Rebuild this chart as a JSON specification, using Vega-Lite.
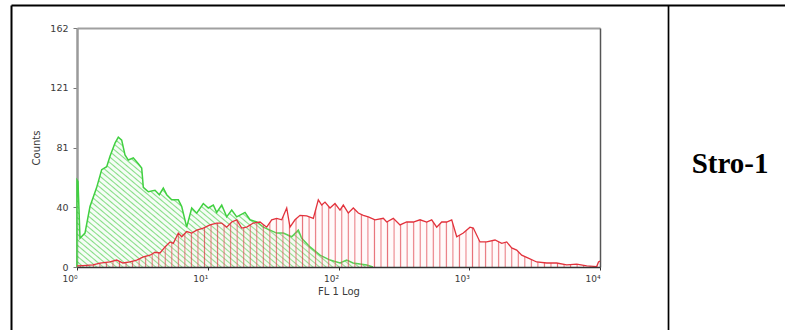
{
  "$schema": "https://vega.github.io/schema/vega-lite/v6.json",
  "width": 774,
  "height": 325,
  "autosize": {"type": "none"},
  "padding": {"left": 11, "top": 5, "right": 0, "bottom": 0},
  "background": "white",
  "config": {
    "view": {"stroke": null},
    "axis": {"grid": false, "labelFont": "DejaVu Sans", "titleFont": "DejaVu Sans", "labelColor": "#3a3a3a", "titleColor": "#3a3a3a", "titleFontWeight": "normal"}
  },
  "resolve": {"scale": {"x": "independent", "y": "independent"}},
  "layer": [
    {
      "data": {"values": [
        {"fl1": 1, "count": 0}, {"fl1": 1, "count": 59}, {"fl1": 1.0178, "count": 58}, {"fl1": 1.0543, "count": 19.5},
        {"fl1": 1.1512, "count": 23}, {"fl1": 1.2571, "count": 41}, {"fl1": 1.4151, "count": 54}, {"fl1": 1.5447, "count": 66},
        {"fl1": 1.687, "count": 68}, {"fl1": 1.788, "count": 75}, {"fl1": 1.9532, "count": 84}, {"fl1": 2.0699, "count": 88},
        {"fl1": 2.1968, "count": 86}, {"fl1": 2.3284, "count": 76}, {"fl1": 2.4678, "count": 72.5}, {"fl1": 2.6956, "count": 74},
        {"fl1": 2.9437, "count": 70}, {"fl1": 3.1248, "count": 67}, {"fl1": 3.2152, "count": 54}, {"fl1": 3.5107, "count": 51},
        {"fl1": 3.9505, "count": 52}, {"fl1": 4.2619, "count": 49}, {"fl1": 4.5714, "count": 53.5}, {"fl1": 4.8532, "count": 49},
        {"fl1": 5.2999, "count": 45.5}, {"fl1": 5.9553, "count": 45.5}, {"fl1": 6.3218, "count": 41}, {"fl1": 6.9024, "count": 27},
        {"fl1": 7.5411, "count": 40}, {"fl1": 8.2334, "count": 36.5}, {"fl1": 9.2471, "count": 43}, {"fl1": 10.098, "count": 40},
        {"fl1": 11.026, "count": 42}, {"fl1": 11.707, "count": 37}, {"fl1": 12.788, "count": 42}, {"fl1": 13.963, "count": 34},
        {"fl1": 15.251, "count": 38.6}, {"fl1": 16.654, "count": 34}, {"fl1": 19.275, "count": 37}, {"fl1": 21.045, "count": 32},
        {"fl1": 23.681, "count": 30.5}, {"fl1": 26.603, "count": 27}, {"fl1": 29.926, "count": 25}, {"fl1": 33.679, "count": 23},
        {"fl1": 37.832, "count": 23}, {"fl1": 43.86, "count": 20.5}, {"fl1": 49.276, "count": 25}, {"fl1": 52.314, "count": 19.5},
        {"fl1": 60.533, "count": 13.6}, {"fl1": 72.2, "count": 8}, {"fl1": 86.097, "count": 4.7}, {"fl1": 102.68, "count": 2.7},
        {"fl1": 115.55, "count": 4.7}, {"fl1": 129.11, "count": 2.7}, {"fl1": 164.35, "count": 1.4}, {"fl1": 183.58, "count": 0}
      ]},
      "mark": {
        "type": "area",
        "fill": {
          "gradient": "linear", "x1": 0, "y1": 1, "x2": 1.087, "y2": 0.432,
          "stops": [
            {"offset": 0, "color": "#52cf52"}, {"offset": 0.004, "color": "#f2fcf2"}, {"offset": 0.012, "color": "#f2fcf2"},
            {"offset": 0.016, "color": "#52cf52"}, {"offset": 0.02, "color": "#f2fcf2"}, {"offset": 0.028, "color": "#f2fcf2"},
            {"offset": 0.032, "color": "#52cf52"}, {"offset": 0.036, "color": "#f2fcf2"}, {"offset": 0.044, "color": "#f2fcf2"},
            {"offset": 0.048, "color": "#52cf52"}, {"offset": 0.052, "color": "#f2fcf2"}, {"offset": 0.06, "color": "#f2fcf2"},
            {"offset": 0.064, "color": "#52cf52"}, {"offset": 0.068, "color": "#f2fcf2"}, {"offset": 0.076, "color": "#f2fcf2"},
            {"offset": 0.08, "color": "#52cf52"}, {"offset": 0.084, "color": "#f2fcf2"}, {"offset": 0.092, "color": "#f2fcf2"},
            {"offset": 0.096, "color": "#52cf52"}, {"offset": 0.1, "color": "#f2fcf2"}, {"offset": 0.108, "color": "#f2fcf2"},
            {"offset": 0.112, "color": "#52cf52"}, {"offset": 0.116, "color": "#f2fcf2"}, {"offset": 0.124, "color": "#f2fcf2"},
            {"offset": 0.128, "color": "#52cf52"}, {"offset": 0.132, "color": "#f2fcf2"}, {"offset": 0.14, "color": "#f2fcf2"},
            {"offset": 0.144, "color": "#52cf52"}, {"offset": 0.148, "color": "#f2fcf2"}, {"offset": 0.156, "color": "#f2fcf2"},
            {"offset": 0.16, "color": "#52cf52"}, {"offset": 0.164, "color": "#f2fcf2"}, {"offset": 0.172, "color": "#f2fcf2"},
            {"offset": 0.176, "color": "#52cf52"}, {"offset": 0.18, "color": "#f2fcf2"}, {"offset": 0.188, "color": "#f2fcf2"},
            {"offset": 0.192, "color": "#52cf52"}, {"offset": 0.196, "color": "#f2fcf2"}, {"offset": 0.204, "color": "#f2fcf2"},
            {"offset": 0.208, "color": "#52cf52"}, {"offset": 0.212, "color": "#f2fcf2"}, {"offset": 0.22, "color": "#f2fcf2"},
            {"offset": 0.224, "color": "#52cf52"}, {"offset": 0.228, "color": "#f2fcf2"}, {"offset": 0.236, "color": "#f2fcf2"},
            {"offset": 0.24, "color": "#52cf52"}, {"offset": 0.244, "color": "#f2fcf2"}, {"offset": 0.252, "color": "#f2fcf2"},
            {"offset": 0.256, "color": "#52cf52"}, {"offset": 0.26, "color": "#f2fcf2"}, {"offset": 0.268, "color": "#f2fcf2"},
            {"offset": 0.272, "color": "#52cf52"}, {"offset": 0.276, "color": "#f2fcf2"}, {"offset": 0.284, "color": "#f2fcf2"},
            {"offset": 0.288, "color": "#52cf52"}, {"offset": 0.292, "color": "#f2fcf2"}, {"offset": 0.3, "color": "#f2fcf2"},
            {"offset": 0.304, "color": "#52cf52"}, {"offset": 0.308, "color": "#f2fcf2"}, {"offset": 0.316, "color": "#f2fcf2"},
            {"offset": 0.32, "color": "#52cf52"}, {"offset": 0.324, "color": "#f2fcf2"}, {"offset": 0.332, "color": "#f2fcf2"},
            {"offset": 0.336, "color": "#52cf52"}, {"offset": 0.34, "color": "#f2fcf2"}, {"offset": 0.348, "color": "#f2fcf2"},
            {"offset": 0.352, "color": "#52cf52"}, {"offset": 0.356, "color": "#f2fcf2"}, {"offset": 0.364, "color": "#f2fcf2"},
            {"offset": 0.368, "color": "#52cf52"}, {"offset": 0.372, "color": "#f2fcf2"}, {"offset": 0.38, "color": "#f2fcf2"},
            {"offset": 0.384, "color": "#52cf52"}, {"offset": 0.388, "color": "#f2fcf2"}, {"offset": 0.396, "color": "#f2fcf2"},
            {"offset": 0.4, "color": "#52cf52"}, {"offset": 0.404, "color": "#f2fcf2"}, {"offset": 0.412, "color": "#f2fcf2"},
            {"offset": 0.416, "color": "#52cf52"}, {"offset": 0.42, "color": "#f2fcf2"}, {"offset": 0.428, "color": "#f2fcf2"},
            {"offset": 0.432, "color": "#52cf52"}, {"offset": 0.436, "color": "#f2fcf2"}, {"offset": 0.444, "color": "#f2fcf2"},
            {"offset": 0.448, "color": "#52cf52"}, {"offset": 0.452, "color": "#f2fcf2"}, {"offset": 0.46, "color": "#f2fcf2"},
            {"offset": 0.464, "color": "#52cf52"}, {"offset": 0.468, "color": "#f2fcf2"}, {"offset": 0.476, "color": "#f2fcf2"},
            {"offset": 0.48, "color": "#52cf52"}, {"offset": 0.484, "color": "#f2fcf2"}, {"offset": 0.492, "color": "#f2fcf2"},
            {"offset": 0.496, "color": "#52cf52"}, {"offset": 0.5, "color": "#f2fcf2"}, {"offset": 0.508, "color": "#f2fcf2"},
            {"offset": 0.512, "color": "#52cf52"}, {"offset": 0.516, "color": "#f2fcf2"}, {"offset": 0.524, "color": "#f2fcf2"},
            {"offset": 0.528, "color": "#52cf52"}, {"offset": 0.532, "color": "#f2fcf2"}, {"offset": 0.54, "color": "#f2fcf2"},
            {"offset": 0.544, "color": "#52cf52"}, {"offset": 0.548, "color": "#f2fcf2"}, {"offset": 0.556, "color": "#f2fcf2"},
            {"offset": 0.56, "color": "#52cf52"}, {"offset": 0.564, "color": "#f2fcf2"}, {"offset": 0.572, "color": "#f2fcf2"},
            {"offset": 0.576, "color": "#52cf52"}, {"offset": 0.58, "color": "#f2fcf2"}, {"offset": 0.588, "color": "#f2fcf2"},
            {"offset": 0.592, "color": "#52cf52"}, {"offset": 0.596, "color": "#f2fcf2"}, {"offset": 0.604, "color": "#f2fcf2"},
            {"offset": 0.608, "color": "#52cf52"}, {"offset": 0.612, "color": "#f2fcf2"}, {"offset": 0.62, "color": "#f2fcf2"},
            {"offset": 0.624, "color": "#52cf52"}, {"offset": 0.628, "color": "#f2fcf2"}, {"offset": 0.636, "color": "#f2fcf2"},
            {"offset": 0.64, "color": "#52cf52"}, {"offset": 0.644, "color": "#f2fcf2"}, {"offset": 0.652, "color": "#f2fcf2"},
            {"offset": 0.656, "color": "#52cf52"}, {"offset": 0.66, "color": "#f2fcf2"}, {"offset": 0.668, "color": "#f2fcf2"},
            {"offset": 0.672, "color": "#52cf52"}, {"offset": 0.676, "color": "#f2fcf2"}, {"offset": 0.684, "color": "#f2fcf2"},
            {"offset": 0.688, "color": "#52cf52"}, {"offset": 0.692, "color": "#f2fcf2"}, {"offset": 0.7, "color": "#f2fcf2"},
            {"offset": 0.704, "color": "#52cf52"}, {"offset": 0.708, "color": "#f2fcf2"}, {"offset": 0.716, "color": "#f2fcf2"},
            {"offset": 0.72, "color": "#52cf52"}, {"offset": 0.724, "color": "#f2fcf2"}, {"offset": 0.732, "color": "#f2fcf2"},
            {"offset": 0.736, "color": "#52cf52"}, {"offset": 0.74, "color": "#f2fcf2"}, {"offset": 0.748, "color": "#f2fcf2"},
            {"offset": 0.752, "color": "#52cf52"}, {"offset": 0.756, "color": "#f2fcf2"}, {"offset": 0.764, "color": "#f2fcf2"},
            {"offset": 0.768, "color": "#52cf52"}, {"offset": 0.772, "color": "#f2fcf2"}, {"offset": 0.78, "color": "#f2fcf2"},
            {"offset": 0.784, "color": "#52cf52"}, {"offset": 0.788, "color": "#f2fcf2"}, {"offset": 0.796, "color": "#f2fcf2"},
            {"offset": 0.8, "color": "#52cf52"}, {"offset": 0.804, "color": "#f2fcf2"}, {"offset": 0.812, "color": "#f2fcf2"},
            {"offset": 0.816, "color": "#52cf52"}, {"offset": 0.82, "color": "#f2fcf2"}, {"offset": 0.828, "color": "#f2fcf2"},
            {"offset": 0.832, "color": "#52cf52"}, {"offset": 0.836, "color": "#f2fcf2"}, {"offset": 0.844, "color": "#f2fcf2"},
            {"offset": 0.848, "color": "#52cf52"}, {"offset": 0.852, "color": "#f2fcf2"}, {"offset": 0.86, "color": "#f2fcf2"},
            {"offset": 0.864, "color": "#52cf52"}, {"offset": 0.868, "color": "#f2fcf2"}, {"offset": 0.876, "color": "#f2fcf2"},
            {"offset": 0.88, "color": "#52cf52"}, {"offset": 0.884, "color": "#f2fcf2"}, {"offset": 0.892, "color": "#f2fcf2"},
            {"offset": 0.896, "color": "#52cf52"}, {"offset": 0.9, "color": "#f2fcf2"}, {"offset": 0.908, "color": "#f2fcf2"},
            {"offset": 0.912, "color": "#52cf52"}, {"offset": 0.916, "color": "#f2fcf2"}, {"offset": 0.924, "color": "#f2fcf2"},
            {"offset": 0.928, "color": "#52cf52"}, {"offset": 0.932, "color": "#f2fcf2"}, {"offset": 0.94, "color": "#f2fcf2"},
            {"offset": 0.944, "color": "#52cf52"}, {"offset": 0.948, "color": "#f2fcf2"}, {"offset": 0.956, "color": "#f2fcf2"},
            {"offset": 0.96, "color": "#52cf52"}, {"offset": 0.964, "color": "#f2fcf2"}, {"offset": 0.972, "color": "#f2fcf2"},
            {"offset": 0.976, "color": "#52cf52"}, {"offset": 0.98, "color": "#f2fcf2"}, {"offset": 0.988, "color": "#f2fcf2"},
            {"offset": 0.992, "color": "#52cf52"}, {"offset": 0.996, "color": "#f2fcf2"}, {"offset": 1, "color": "#f2fcf2"}
          ]
        },
        "line": {"color": "#40d040", "strokeWidth": 1.5}
      },
      "encoding": {
        "x": {
          "field": "fl1", "type": "quantitative",
          "scale": {"type": "log", "domain": [1, 10000], "range": [66, 589]},
          "axis": {
            "orient": "bottom", "offset": -63, "zindex": 1,
            "values": [1, 10, 100, 1000, 10000],
            "labelExpr": "'10' + ['⁰','¹','²','³','⁴'][round(log(datum.value) / LN10)]",
            "labelAlign": "right", "labelFontSize": 9, "labelPadding": 4,
            "tickSize": 3, "tickColor": "#333333", "domainColor": "#333333", "domainWidth": 1.5,
            "title": "FL 1 Log", "titleFontSize": 10, "titlePadding": 3
          }
        },
        "y": {
          "field": "count", "type": "quantitative",
          "scale": {"domain": [0, 162], "range": [262, 23]},
          "axis": {
            "orient": "left", "offset": -66,
            "values": [0, 40.5, 81, 121.5, 162],
            "labelExpr": "floor(datum.value)",
            "labelFontSize": 9.5, "labelPadding": 5,
            "tickSize": 4, "tickColor": "#777777", "domainColor": "#9a9a9a", "domainWidth": 2.5,
            "title": "Counts", "titleFontSize": 10, "titlePadding": 8
          }
        }
      }
    },
    {
      "data": {"values": [
        {"fl1": 1, "count": 0.7}, {"fl1": 1.1114, "count": 1}, {"fl1": 1.3257, "count": 1.4}, {"fl1": 1.4996, "count": 2.7},
        {"fl1": 1.788, "count": 3.4}, {"fl1": 2.0118, "count": 4.7}, {"fl1": 2.2477, "count": 2.7}, {"fl1": 2.5429, "count": 3.4},
        {"fl1": 2.8617, "count": 4.7}, {"fl1": 3.2152, "count": 6.8}, {"fl1": 3.6168, "count": 8}, {"fl1": 3.9505, "count": 10},
        {"fl1": 4.3148, "count": 9.5}, {"fl1": 4.711, "count": 13.6}, {"fl1": 5.1445, "count": 17}, {"fl1": 5.4528, "count": 16},
        {"fl1": 5.9553, "count": 23}, {"fl1": 6.3218, "count": 20.5}, {"fl1": 6.9024, "count": 24}, {"fl1": 7.5411, "count": 23},
        {"fl1": 8.2334, "count": 25}, {"fl1": 9.2471, "count": 26.4}, {"fl1": 10.404, "count": 28.5}, {"fl1": 11.707, "count": 29.8},
        {"fl1": 12.788, "count": 29.8}, {"fl1": 13.963, "count": 27}, {"fl1": 15.251, "count": 30.5}, {"fl1": 16.654, "count": 32},
        {"fl1": 18.183, "count": 26.4}, {"fl1": 19.861, "count": 27}, {"fl1": 22.304, "count": 29.8}, {"fl1": 25.097, "count": 30.5},
        {"fl1": 28.236, "count": 27}, {"fl1": 30.837, "count": 32}, {"fl1": 33.679, "count": 33}, {"fl1": 36.781, "count": 32},
        {"fl1": 40.17, "count": 40}, {"fl1": 42.573, "count": 27}, {"fl1": 46.49, "count": 32}, {"fl1": 50.773, "count": 35},
        {"fl1": 57.129, "count": 34.6}, {"fl1": 64.171, "count": 33}, {"fl1": 70.083, "count": 45.5}, {"fl1": 74.399, "count": 42},
        {"fl1": 78.843, "count": 44}, {"fl1": 86.097, "count": 40}, {"fl1": 94.018, "count": 43}, {"fl1": 102.68, "count": 38.6},
        {"fl1": 108.83, "count": 42}, {"fl1": 118.85, "count": 36.6}, {"fl1": 129.79, "count": 40}, {"fl1": 141.73, "count": 36.6},
        {"fl1": 154.76, "count": 35}, {"fl1": 169.02, "count": 34}, {"fl1": 190.17, "count": 32}, {"fl1": 220.1, "count": 33},
        {"fl1": 233.68, "count": 30.5}, {"fl1": 262.54, "count": 33}, {"fl1": 295.43, "count": 28.5}, {"fl1": 332.33, "count": 30.5},
        {"fl1": 373.39, "count": 30.5}, {"fl1": 420.14, "count": 32}, {"fl1": 472.62, "count": 30.5}, {"fl1": 516.24, "count": 32},
        {"fl1": 563.72, "count": 27}, {"fl1": 615.66, "count": 30.5}, {"fl1": 672.33, "count": 30.5}, {"fl1": 734.27, "count": 32},
        {"fl1": 801.86, "count": 20.5}, {"fl1": 900.64, "count": 23}, {"fl1": 1013.3, "count": 27}, {"fl1": 1073.9, "count": 26.4},
        {"fl1": 1208.3, "count": 17}, {"fl1": 1359.8, "count": 17}, {"fl1": 1573.8, "count": 18.3}, {"fl1": 1771.2, "count": 16},
        {"fl1": 1934.2, "count": 17}, {"fl1": 2111.9, "count": 12.9}, {"fl1": 2306.6, "count": 11.5}, {"fl1": 2518.8, "count": 8},
        {"fl1": 2829, "count": 6}, {"fl1": 3280.7, "count": 3.4}, {"fl1": 3912.2, "count": 2.7}, {"fl1": 4665.9, "count": 2.7},
        {"fl1": 5564, "count": 1.4}, {"fl1": 6634.2, "count": 2}, {"fl1": 7911, "count": 0.7}, {"fl1": 9435, "count": 0.3},
        {"fl1": 9740, "count": 3.4}, {"fl1": 10000, "count": 4}
      ]},
      "mark": {
        "type": "area",
        "fill": {
          "gradient": "linear", "x1": 0, "y1": 0, "x2": 1, "y2": 0,
          "stops": [
            {"offset": 0.00375, "color": "rgba(255,215,215,0.18)"}, {"offset": 0.00625, "color": "#dc2f3a"}, {"offset": 0.00875, "color": "rgba(255,215,215,0.18)"},
            {"offset": 0.01625, "color": "rgba(255,215,215,0.18)"}, {"offset": 0.01875, "color": "#dc2f3a"}, {"offset": 0.02125, "color": "rgba(255,215,215,0.18)"},
            {"offset": 0.02875, "color": "rgba(255,215,215,0.18)"}, {"offset": 0.03125, "color": "#dc2f3a"}, {"offset": 0.03375, "color": "rgba(255,215,215,0.18)"},
            {"offset": 0.04125, "color": "rgba(255,215,215,0.18)"}, {"offset": 0.04375, "color": "#dc2f3a"}, {"offset": 0.04625, "color": "rgba(255,215,215,0.18)"},
            {"offset": 0.05375, "color": "rgba(255,215,215,0.18)"}, {"offset": 0.05625, "color": "#dc2f3a"}, {"offset": 0.05875, "color": "rgba(255,215,215,0.18)"},
            {"offset": 0.06625, "color": "rgba(255,215,215,0.18)"}, {"offset": 0.06875, "color": "#dc2f3a"}, {"offset": 0.07125, "color": "rgba(255,215,215,0.18)"},
            {"offset": 0.07875, "color": "rgba(255,215,215,0.18)"}, {"offset": 0.08125, "color": "#dc2f3a"}, {"offset": 0.08375, "color": "rgba(255,215,215,0.18)"},
            {"offset": 0.09125, "color": "rgba(255,215,215,0.18)"}, {"offset": 0.09375, "color": "#dc2f3a"}, {"offset": 0.09625, "color": "rgba(255,215,215,0.18)"},
            {"offset": 0.10375, "color": "rgba(255,215,215,0.18)"}, {"offset": 0.10625, "color": "#dc2f3a"}, {"offset": 0.10875, "color": "rgba(255,215,215,0.18)"},
            {"offset": 0.11625, "color": "rgba(255,215,215,0.18)"}, {"offset": 0.11875, "color": "#dc2f3a"}, {"offset": 0.12125, "color": "rgba(255,215,215,0.18)"},
            {"offset": 0.12875, "color": "rgba(255,215,215,0.18)"}, {"offset": 0.13125, "color": "#dc2f3a"}, {"offset": 0.13375, "color": "rgba(255,215,215,0.18)"},
            {"offset": 0.14125, "color": "rgba(255,215,215,0.18)"}, {"offset": 0.14375, "color": "#dc2f3a"}, {"offset": 0.14625, "color": "rgba(255,215,215,0.18)"},
            {"offset": 0.15375, "color": "rgba(255,215,215,0.18)"}, {"offset": 0.15625, "color": "#dc2f3a"}, {"offset": 0.15875, "color": "rgba(255,215,215,0.18)"},
            {"offset": 0.16625, "color": "rgba(255,215,215,0.18)"}, {"offset": 0.16875, "color": "#dc2f3a"}, {"offset": 0.17125, "color": "rgba(255,215,215,0.18)"},
            {"offset": 0.17875, "color": "rgba(255,215,215,0.18)"}, {"offset": 0.18125, "color": "#dc2f3a"}, {"offset": 0.18375, "color": "rgba(255,215,215,0.18)"},
            {"offset": 0.19125, "color": "rgba(255,215,215,0.18)"}, {"offset": 0.19375, "color": "#dc2f3a"}, {"offset": 0.19625, "color": "rgba(255,215,215,0.18)"},
            {"offset": 0.20375, "color": "rgba(255,215,215,0.18)"}, {"offset": 0.20625, "color": "#dc2f3a"}, {"offset": 0.20875, "color": "rgba(255,215,215,0.18)"},
            {"offset": 0.21625, "color": "rgba(255,215,215,0.18)"}, {"offset": 0.21875, "color": "#dc2f3a"}, {"offset": 0.22125, "color": "rgba(255,215,215,0.18)"},
            {"offset": 0.22875, "color": "rgba(255,215,215,0.18)"}, {"offset": 0.23125, "color": "#dc2f3a"}, {"offset": 0.23375, "color": "rgba(255,215,215,0.18)"},
            {"offset": 0.24125, "color": "rgba(255,215,215,0.18)"}, {"offset": 0.24375, "color": "#dc2f3a"}, {"offset": 0.24625, "color": "rgba(255,215,215,0.18)"},
            {"offset": 0.25375, "color": "rgba(255,215,215,0.18)"}, {"offset": 0.25625, "color": "#dc2f3a"}, {"offset": 0.25875, "color": "rgba(255,215,215,0.18)"},
            {"offset": 0.26625, "color": "rgba(255,215,215,0.18)"}, {"offset": 0.26875, "color": "#dc2f3a"}, {"offset": 0.27125, "color": "rgba(255,215,215,0.18)"},
            {"offset": 0.27875, "color": "rgba(255,215,215,0.18)"}, {"offset": 0.28125, "color": "#dc2f3a"}, {"offset": 0.28375, "color": "rgba(255,215,215,0.18)"},
            {"offset": 0.29125, "color": "rgba(255,215,215,0.18)"}, {"offset": 0.29375, "color": "#dc2f3a"}, {"offset": 0.29625, "color": "rgba(255,215,215,0.18)"},
            {"offset": 0.30375, "color": "rgba(255,215,215,0.18)"}, {"offset": 0.30625, "color": "#dc2f3a"}, {"offset": 0.30875, "color": "rgba(255,215,215,0.18)"},
            {"offset": 0.31625, "color": "rgba(255,215,215,0.18)"}, {"offset": 0.31875, "color": "#dc2f3a"}, {"offset": 0.32125, "color": "rgba(255,215,215,0.18)"},
            {"offset": 0.32875, "color": "rgba(255,215,215,0.18)"}, {"offset": 0.33125, "color": "#dc2f3a"}, {"offset": 0.33375, "color": "rgba(255,215,215,0.18)"},
            {"offset": 0.34125, "color": "rgba(255,215,215,0.18)"}, {"offset": 0.34375, "color": "#dc2f3a"}, {"offset": 0.34625, "color": "rgba(255,215,215,0.18)"},
            {"offset": 0.35375, "color": "rgba(255,215,215,0.18)"}, {"offset": 0.35625, "color": "#dc2f3a"}, {"offset": 0.35875, "color": "rgba(255,215,215,0.18)"},
            {"offset": 0.36625, "color": "rgba(255,215,215,0.18)"}, {"offset": 0.36875, "color": "#dc2f3a"}, {"offset": 0.37125, "color": "rgba(255,215,215,0.18)"},
            {"offset": 0.37875, "color": "rgba(255,215,215,0.18)"}, {"offset": 0.38125, "color": "#dc2f3a"}, {"offset": 0.38375, "color": "rgba(255,215,215,0.18)"},
            {"offset": 0.39125, "color": "rgba(255,215,215,0.18)"}, {"offset": 0.39375, "color": "#dc2f3a"}, {"offset": 0.39625, "color": "rgba(255,215,215,0.18)"},
            {"offset": 0.40375, "color": "rgba(255,215,215,0.18)"}, {"offset": 0.40625, "color": "#dc2f3a"}, {"offset": 0.40875, "color": "rgba(255,215,215,0.18)"},
            {"offset": 0.41625, "color": "rgba(255,215,215,0.18)"}, {"offset": 0.41875, "color": "#dc2f3a"}, {"offset": 0.42125, "color": "rgba(255,215,215,0.18)"},
            {"offset": 0.42875, "color": "rgba(255,215,215,0.18)"}, {"offset": 0.43125, "color": "#dc2f3a"}, {"offset": 0.43375, "color": "rgba(255,215,215,0.18)"},
            {"offset": 0.44125, "color": "rgba(255,215,215,0.18)"}, {"offset": 0.44375, "color": "#dc2f3a"}, {"offset": 0.44625, "color": "rgba(255,215,215,0.18)"},
            {"offset": 0.45375, "color": "rgba(255,215,215,0.18)"}, {"offset": 0.45625, "color": "#dc2f3a"}, {"offset": 0.45875, "color": "rgba(255,215,215,0.18)"},
            {"offset": 0.46625, "color": "rgba(255,215,215,0.18)"}, {"offset": 0.46875, "color": "#dc2f3a"}, {"offset": 0.47125, "color": "rgba(255,215,215,0.18)"},
            {"offset": 0.47875, "color": "rgba(255,215,215,0.18)"}, {"offset": 0.48125, "color": "#dc2f3a"}, {"offset": 0.48375, "color": "rgba(255,215,215,0.18)"},
            {"offset": 0.49125, "color": "rgba(255,215,215,0.18)"}, {"offset": 0.49375, "color": "#dc2f3a"}, {"offset": 0.49625, "color": "rgba(255,215,215,0.18)"},
            {"offset": 0.50375, "color": "rgba(255,215,215,0.18)"}, {"offset": 0.50625, "color": "#dc2f3a"}, {"offset": 0.50875, "color": "rgba(255,215,215,0.18)"},
            {"offset": 0.51625, "color": "rgba(255,215,215,0.18)"}, {"offset": 0.51875, "color": "#dc2f3a"}, {"offset": 0.52125, "color": "rgba(255,215,215,0.18)"},
            {"offset": 0.52875, "color": "rgba(255,215,215,0.18)"}, {"offset": 0.53125, "color": "#dc2f3a"}, {"offset": 0.53375, "color": "rgba(255,215,215,0.18)"},
            {"offset": 0.54125, "color": "rgba(255,215,215,0.18)"}, {"offset": 0.54375, "color": "#dc2f3a"}, {"offset": 0.54625, "color": "rgba(255,215,215,0.18)"},
            {"offset": 0.55375, "color": "rgba(255,215,215,0.18)"}, {"offset": 0.55625, "color": "#dc2f3a"}, {"offset": 0.55875, "color": "rgba(255,215,215,0.18)"},
            {"offset": 0.56625, "color": "rgba(255,215,215,0.18)"}, {"offset": 0.56875, "color": "#dc2f3a"}, {"offset": 0.57125, "color": "rgba(255,215,215,0.18)"},
            {"offset": 0.57875, "color": "rgba(255,215,215,0.18)"}, {"offset": 0.58125, "color": "#dc2f3a"}, {"offset": 0.58375, "color": "rgba(255,215,215,0.18)"},
            {"offset": 0.59125, "color": "rgba(255,215,215,0.18)"}, {"offset": 0.59375, "color": "#dc2f3a"}, {"offset": 0.59625, "color": "rgba(255,215,215,0.18)"},
            {"offset": 0.60375, "color": "rgba(255,215,215,0.18)"}, {"offset": 0.60625, "color": "#dc2f3a"}, {"offset": 0.60875, "color": "rgba(255,215,215,0.18)"},
            {"offset": 0.61625, "color": "rgba(255,215,215,0.18)"}, {"offset": 0.61875, "color": "#dc2f3a"}, {"offset": 0.62125, "color": "rgba(255,215,215,0.18)"},
            {"offset": 0.62875, "color": "rgba(255,215,215,0.18)"}, {"offset": 0.63125, "color": "#dc2f3a"}, {"offset": 0.63375, "color": "rgba(255,215,215,0.18)"},
            {"offset": 0.64125, "color": "rgba(255,215,215,0.18)"}, {"offset": 0.64375, "color": "#dc2f3a"}, {"offset": 0.64625, "color": "rgba(255,215,215,0.18)"},
            {"offset": 0.65375, "color": "rgba(255,215,215,0.18)"}, {"offset": 0.65625, "color": "#dc2f3a"}, {"offset": 0.65875, "color": "rgba(255,215,215,0.18)"},
            {"offset": 0.66625, "color": "rgba(255,215,215,0.18)"}, {"offset": 0.66875, "color": "#dc2f3a"}, {"offset": 0.67125, "color": "rgba(255,215,215,0.18)"},
            {"offset": 0.67875, "color": "rgba(255,215,215,0.18)"}, {"offset": 0.68125, "color": "#dc2f3a"}, {"offset": 0.68375, "color": "rgba(255,215,215,0.18)"},
            {"offset": 0.69125, "color": "rgba(255,215,215,0.18)"}, {"offset": 0.69375, "color": "#dc2f3a"}, {"offset": 0.69625, "color": "rgba(255,215,215,0.18)"},
            {"offset": 0.70375, "color": "rgba(255,215,215,0.18)"}, {"offset": 0.70625, "color": "#dc2f3a"}, {"offset": 0.70875, "color": "rgba(255,215,215,0.18)"},
            {"offset": 0.71625, "color": "rgba(255,215,215,0.18)"}, {"offset": 0.71875, "color": "#dc2f3a"}, {"offset": 0.72125, "color": "rgba(255,215,215,0.18)"},
            {"offset": 0.72875, "color": "rgba(255,215,215,0.18)"}, {"offset": 0.73125, "color": "#dc2f3a"}, {"offset": 0.73375, "color": "rgba(255,215,215,0.18)"},
            {"offset": 0.74125, "color": "rgba(255,215,215,0.18)"}, {"offset": 0.74375, "color": "#dc2f3a"}, {"offset": 0.74625, "color": "rgba(255,215,215,0.18)"},
            {"offset": 0.75375, "color": "rgba(255,215,215,0.18)"}, {"offset": 0.75625, "color": "#dc2f3a"}, {"offset": 0.75875, "color": "rgba(255,215,215,0.18)"},
            {"offset": 0.76625, "color": "rgba(255,215,215,0.18)"}, {"offset": 0.76875, "color": "#dc2f3a"}, {"offset": 0.77125, "color": "rgba(255,215,215,0.18)"},
            {"offset": 0.77875, "color": "rgba(255,215,215,0.18)"}, {"offset": 0.78125, "color": "#dc2f3a"}, {"offset": 0.78375, "color": "rgba(255,215,215,0.18)"},
            {"offset": 0.79125, "color": "rgba(255,215,215,0.18)"}, {"offset": 0.79375, "color": "#dc2f3a"}, {"offset": 0.79625, "color": "rgba(255,215,215,0.18)"},
            {"offset": 0.80375, "color": "rgba(255,215,215,0.18)"}, {"offset": 0.80625, "color": "#dc2f3a"}, {"offset": 0.80875, "color": "rgba(255,215,215,0.18)"},
            {"offset": 0.81625, "color": "rgba(255,215,215,0.18)"}, {"offset": 0.81875, "color": "#dc2f3a"}, {"offset": 0.82125, "color": "rgba(255,215,215,0.18)"},
            {"offset": 0.82875, "color": "rgba(255,215,215,0.18)"}, {"offset": 0.83125, "color": "#dc2f3a"}, {"offset": 0.83375, "color": "rgba(255,215,215,0.18)"},
            {"offset": 0.84125, "color": "rgba(255,215,215,0.18)"}, {"offset": 0.84375, "color": "#dc2f3a"}, {"offset": 0.84625, "color": "rgba(255,215,215,0.18)"},
            {"offset": 0.85375, "color": "rgba(255,215,215,0.18)"}, {"offset": 0.85625, "color": "#dc2f3a"}, {"offset": 0.85875, "color": "rgba(255,215,215,0.18)"},
            {"offset": 0.86625, "color": "rgba(255,215,215,0.18)"}, {"offset": 0.86875, "color": "#dc2f3a"}, {"offset": 0.87125, "color": "rgba(255,215,215,0.18)"},
            {"offset": 0.87875, "color": "rgba(255,215,215,0.18)"}, {"offset": 0.88125, "color": "#dc2f3a"}, {"offset": 0.88375, "color": "rgba(255,215,215,0.18)"},
            {"offset": 0.89125, "color": "rgba(255,215,215,0.18)"}, {"offset": 0.89375, "color": "#dc2f3a"}, {"offset": 0.89625, "color": "rgba(255,215,215,0.18)"},
            {"offset": 0.90375, "color": "rgba(255,215,215,0.18)"}, {"offset": 0.90625, "color": "#dc2f3a"}, {"offset": 0.90875, "color": "rgba(255,215,215,0.18)"},
            {"offset": 0.91625, "color": "rgba(255,215,215,0.18)"}, {"offset": 0.91875, "color": "#dc2f3a"}, {"offset": 0.92125, "color": "rgba(255,215,215,0.18)"},
            {"offset": 0.92875, "color": "rgba(255,215,215,0.18)"}, {"offset": 0.93125, "color": "#dc2f3a"}, {"offset": 0.93375, "color": "rgba(255,215,215,0.18)"},
            {"offset": 0.94125, "color": "rgba(255,215,215,0.18)"}, {"offset": 0.94375, "color": "#dc2f3a"}, {"offset": 0.94625, "color": "rgba(255,215,215,0.18)"},
            {"offset": 0.95375, "color": "rgba(255,215,215,0.18)"}, {"offset": 0.95625, "color": "#dc2f3a"}, {"offset": 0.95875, "color": "rgba(255,215,215,0.18)"},
            {"offset": 0.96625, "color": "rgba(255,215,215,0.18)"}, {"offset": 0.96875, "color": "#dc2f3a"}, {"offset": 0.97125, "color": "rgba(255,215,215,0.18)"},
            {"offset": 0.97875, "color": "rgba(255,215,215,0.18)"}, {"offset": 0.98125, "color": "#dc2f3a"}, {"offset": 0.98375, "color": "rgba(255,215,215,0.18)"},
            {"offset": 0.99125, "color": "rgba(255,215,215,0.18)"}, {"offset": 0.99375, "color": "#dc2f3a"}, {"offset": 0.99625, "color": "rgba(255,215,215,0.18)"}
          ]
        },
        "line": {"color": "#e2323c", "strokeWidth": 1.3}
      },
      "encoding": {
        "x": {
          "field": "fl1", "type": "quantitative",
          "scale": {"type": "log", "domain": [1, 10000], "range": [66, 589]},
          "axis": {"orient": "top", "offset": -23, "labels": false, "ticks": false, "domainColor": "#a0a0a0", "domainWidth": 2, "title": null}
        },
        "y": {
          "field": "count", "type": "quantitative",
          "scale": {"domain": [0, 162], "range": [262, 23]},
          "axis": {"orient": "right", "offset": -185, "labels": false, "ticks": false, "domainColor": "#555555", "domainWidth": 1.5, "title": null}
        }
      }
    },
    {
      "data": {"values": [{"label": "Stro-1"}]},
      "mark": {"type": "text", "font": "Liberation Serif", "fontWeight": "bold", "fontSize": 29, "color": "black", "align": "center", "baseline": "alphabetic"},
      "encoding": {
        "text": {"field": "label"},
        "x": {
          "datum": 0.929, "type": "quantitative", "scale": {"domain": [0, 1]},
          "axis": {"orient": "top", "domainColor": "black", "domainWidth": 2, "ticks": false, "labels": false, "title": null}
        },
        "y": {
          "datum": 0.482, "type": "quantitative", "scale": {"domain": [0, 1]},
          "axis": {"orient": "left", "domainColor": "black", "domainWidth": 2, "ticks": false, "labels": false, "title": null}
        }
      }
    },
    {
      "data": {"values": [{"edge": "divider"}]},
      "mark": {"type": "rule", "color": "black", "strokeWidth": 1.7},
      "encoding": {
        "x": {"datum": 0.8495, "type": "quantitative", "scale": {"domain": [0, 1]}, "axis": null}
      }
    }
  ]
}
